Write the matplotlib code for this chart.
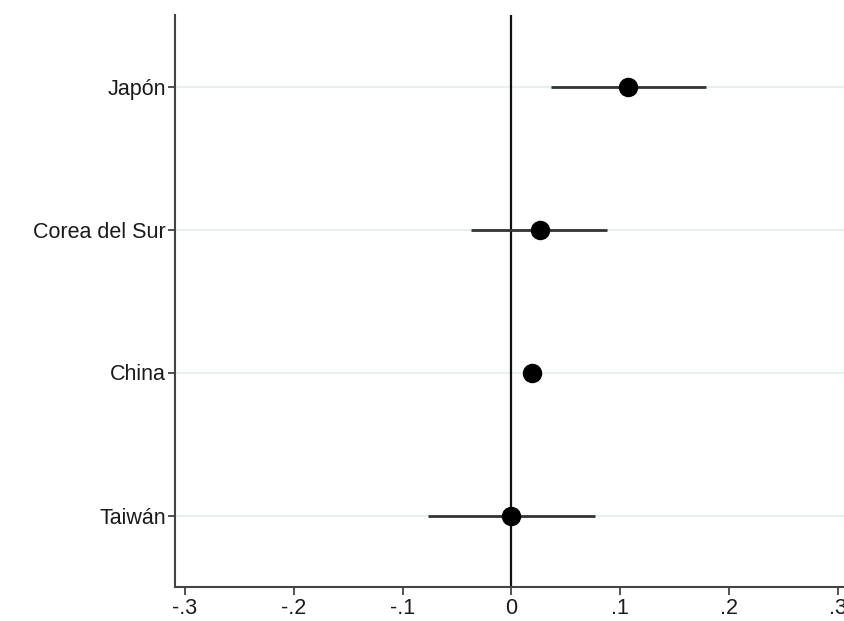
import matplotlib
matplotlib.use("Agg")
import matplotlib.pyplot as plt

countries = ["Japón", "Corea del Sur", "China", "Taiwán"]
coef = [0.107, 0.026, 0.019, 0.000]
ci_low = [0.036, -0.037, 0.013, -0.077]
ci_high = [0.179, 0.088, 0.025, 0.077]
xticks = [-0.3, -0.2, -0.1, 0.0, 0.1, 0.2, 0.3]
xticklabels = ["-.3", "-.2", "-.1", "0", ".1", ".2", ".3"]

plt.rcParams['font.family'] = ['Liberation Sans', 'DejaVu Sans']

fig = plt.figure(figsize=(8.44, 6.21), dpi=100)
ax = fig.add_axes([175/844, 34/621, 1 - 175/844, (587-15)/621])

n = len(countries)
ypos = list(range(n, 0, -1))

for y in ypos:
    ax.axhline(y, color="#e6f0f1", lw=1.4, zorder=0)

ax.axvline(0, color="#111111", lw=1.6, zorder=1)

for y, c, lo, hi in zip(ypos, coef, ci_low, ci_high):
    ax.plot([lo, hi], [y, y], color="#333333", lw=2, zorder=2, solid_capstyle="butt")
    ax.plot(c, y, "o", color="black", ms=13, zorder=3)

ax.set_xlim(-0.309, 0.3055)
ax.set_ylim(0.5, n + 0.5)
ax.set_yticks(ypos)
ax.set_yticklabels(countries, fontsize=15.5, color="#1a1a1a")
ax.set_xticks(xticks)
ax.set_xticklabels(xticklabels, fontsize=15.5, color="#1a1a1a")

for s in ["top", "right"]:
    ax.spines[s].set_visible(False)
for s in ["left", "bottom"]:
    ax.spines[s].set_color("#444444")
    ax.spines[s].set_linewidth(1.5)

ax.tick_params(axis="y", length=5, width=1.3, color="#444444", pad=1.5)
ax.tick_params(axis="x", length=6, width=1.3, color="#444444", pad=2)

fig.savefig("out.png", dpi=100)
